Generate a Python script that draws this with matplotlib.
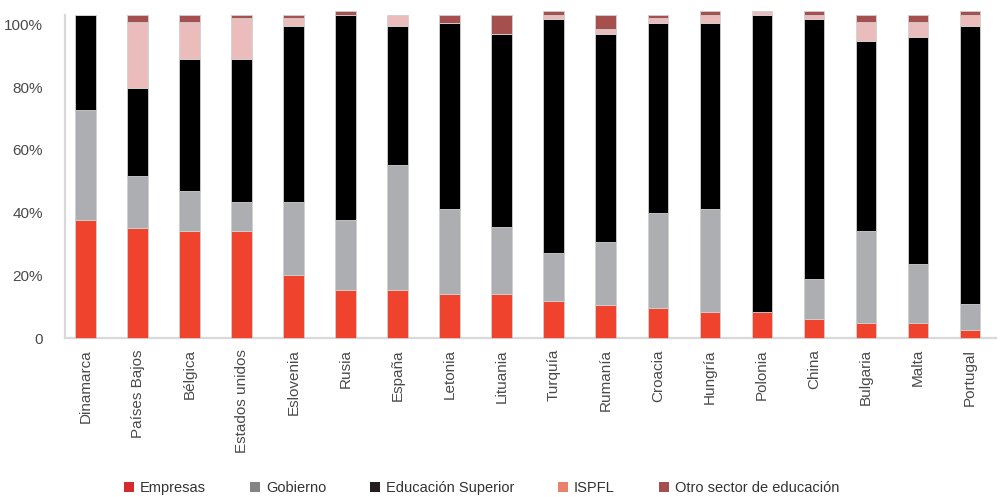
import numpy as np
import matplotlib
matplotlib.use("Agg")
import matplotlib.pyplot as plt
from matplotlib.patches import Patch

plt.rcParams['font.family'] = ['Liberation Sans', 'DejaVu Sans']

countries = ["Dinamarca", "Países Bajos", "Bélgica", "Estados unidos", "Eslovenia",
             "Rusia", "España", "Letonia", "Lituania", "Turquía", "Rumanía", "Croacia",
             "Hungría", "Polonia", "China", "Bulgaria", "Malta", "Portugal"]

empresas = [37.6, 35.2, 34.1, 34.1, 20.1, 15.3, 15.3, 14.1, 14.1, 11.9, 10.6, 9.7,
            8.4, 8.4, 6.1, 4.9, 4.9, 2.6]
gobierno = [35.1, 16.5, 12.9, 9.4, 23.4, 22.3, 39.9, 27.0, 21.2, 15.2, 20.0, 30.3,
            32.7, 0.0, 12.8, 29.2, 18.7, 8.1]
educacion_sup = [30.3, 27.9, 42.0, 45.5, 56.1, 65.4, 44.3, 59.5, 61.8, 74.7, 66.5, 60.6,
                 59.5, 94.6, 82.9, 60.7, 72.4, 88.8]
ispfl = [0.0, 21.2, 11.8, 13.0, 2.4, 0.0, 3.5, 0.0, 0.0, 1.2, 1.4, 1.4,
         2.4, 1.3, 1.2, 6.0, 4.8, 3.5]
otro = [0.0, 2.2, 2.2, 1.0, 1.0, 1.3, 0.0, 2.4, 5.9, 1.3, 4.5, 1.0,
        1.3, 0.0, 1.3, 2.2, 2.2, 1.3]

# (label, values, bar colour, legend colour)
series = [
    ("Empresas", empresas, "#f0432e", "#d42a2e"),
    ("Gobierno", gobierno, "#acaeb1", "#848484"),
    ("Educación Superior", educacion_sup, "#000000", "#231f20"),
    ("ISPFL", ispfl, "#ebbcbc", "#e8826c"),
    ("Otro sector de educación", otro, "#a5504e", "#a54f4f"),
]

fig = plt.figure(figsize=(10.03, 4.97), dpi=100)
ax = fig.add_axes([0.0648, 0.3199, 0.9282, 0.6499])

x = np.arange(len(countries))
bottom = np.zeros(len(countries))
for name, vals, col, _ in series:
    vals = np.array(vals)
    ax.bar(x, vals, width=0.4, bottom=bottom, color=col,
           edgecolor="#d0d0d0", linewidth=0.6, clip_on=False, zorder=3)
    bottom += vals

ax.set_xlim(-0.4, 17.5)
ax.set_ylim(0, 103)
ax.set_yticks([0, 20, 40, 60, 80, 100])
ax.set_yticklabels(["0", "20%", "40%", "60%", "80%", "100%"])
ax.set_xticks(x)
ax.set_xticklabels(countries, rotation=90)
ax.tick_params(axis="both", length=0, labelsize=11, labelcolor="#4a4a4a")
ax.tick_params(axis="y", pad=16)
ax.tick_params(axis="x", pad=8)

for s in ["top", "right"]:
    ax.spines[s].set_visible(False)
for s in ["left", "bottom"]:
    ax.spines[s].set_color("#d9d9d9")
    ax.spines[s].set_linewidth(1.6)

handles = [Patch(facecolor=lc, edgecolor="none") for _, _, _, lc in series]
labels = [n for n, _, _, _ in series]
fig.legend(handles, labels, loc="center", bbox_to_anchor=(0.48, 0.018), ncol=5,
           frameon=False, fontsize=10.5, handlelength=0.7, handleheight=0.7,
           handletextpad=0.4, columnspacing=3.0, labelcolor="#333333")

fig.savefig("out.png", dpi=100)
